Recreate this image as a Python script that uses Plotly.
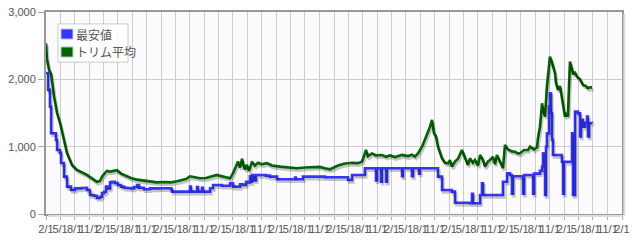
import pandas as pd
import plotly.graph_objects as go

START = "2014-02-01"
END = "2024-02-01"

# day offsets from START and prices (JPY)
trim_days = [0, 6, 19, 32, 51, 70, 89, 101, 114, 133, 152, 165, 197, 228, 260, 285, 304, 323, 342, 355,
             374, 387, 406, 431, 450, 476, 514, 539, 577, 621, 659, 704, 748, 793, 831, 862, 888, 913, 938, 976,
             1014, 1052, 1084, 1116, 1148, 1167, 1186, 1205, 1217, 1230, 1243, 1255, 1262, 1274, 1287, 1306, 1325, 1344, 1369, 1401,
             1433, 1484, 1528, 1591, 1642, 1693, 1737, 1769, 1801, 1851, 1896, 1940, 1978, 2003, 2016, 2029, 2041, 2067, 2092, 2130,
             2156, 2181, 2213, 2257, 2295, 2320, 2339, 2358, 2384, 2403, 2422, 2435, 2447, 2460, 2473, 2485, 2511, 2530, 2549, 2561,
             2574, 2593, 2612, 2637, 2656, 2675, 2688, 2707, 2720, 2739, 2752, 2771, 2783, 2802, 2815, 2834, 2847, 2859, 2878, 2897,
             2910, 2929, 2954, 2973, 2992, 3005, 3031, 3056, 3069, 3094, 3113, 3119, 3132, 3145, 3151, 3164, 3176, 3189, 3195, 3208,
             3227, 3233, 3246, 3259, 3271, 3284, 3290, 3303, 3309, 3316, 3322, 3335, 3341, 3354, 3367, 3386, 3405, 3424, 3436, 3449, 3462]
trim_vals = [2536, 2300, 2140, 2080, 1743, 1500, 1352, 1250, 1100, 906, 790, 728, 654, 620, 580, 540, 505, 478, 490, 555,
             610, 640, 630, 645, 650, 600, 555, 535, 510, 495, 480, 470, 475, 470, 485, 500, 520, 560, 545, 530,
             535, 555, 580, 560, 540, 530, 605, 700, 780, 690, 820, 700, 660, 730, 640, 777, 720, 760, 740, 755,
             720, 703, 690, 680, 690, 693, 700, 680, 664, 720, 750, 760, 755, 777, 880, 951, 860, 900, 870, 877,
             850, 870, 845, 877, 860, 880, 852, 900, 1000, 1100, 1223, 1300, 1397, 1200, 1150, 1000, 827, 760, 753, 800,
             703, 780, 820, 951, 850, 728, 827, 760, 802, 720, 877, 800, 703, 780, 802, 850, 740, 877, 780, 680,
             1025, 960, 930, 926, 900, 902, 950, 951, 1000, 960, 990, 1124, 1300, 1645, 1550, 1446, 1900, 2150, 2338, 2250,
             2090, 1950, 1843, 1900, 1694, 1550, 1446, 1500, 1446, 1900, 2264, 2150, 2090, 2100, 2040, 2000, 1917, 1900, 1868, 1880, 1880]

min_days = [0, 13, 25, 32, 51, 63, 70, 89, 95, 114, 133, 159, 184, 222, 254, 260, 279, 304, 323, 342,
            355, 368, 380, 393, 406, 418, 437, 456, 476, 495, 514, 539, 558, 577, 590, 621, 659, 723, 793, 799,
            913, 919, 957, 964, 989, 995, 1040, 1059, 1116, 1167, 1186, 1230, 1249, 1268, 1281, 1293, 1300, 1306, 1319, 1331,
            1395, 1420, 1465, 1579, 1585, 1629, 1769, 1915, 1940, 2022, 2092, 2099, 2124, 2130, 2156, 2162, 2257, 2263, 2320, 2327,
            2365, 2371, 2485, 2511, 2574, 2593, 2688, 2701, 2707, 2752, 2764, 2771, 2897, 2923, 2942, 2954, 2961, 3024, 3031, 3088,
            3094, 3132, 3145, 3151, 3164, 3170, 3176, 3189, 3195, 3202, 3208, 3214, 3271, 3278, 3284, 3335, 3341, 3354, 3373, 3386,
            3392, 3405, 3417, 3430, 3436, 3443, 3462]
min_vals = [2095, 1843, 1595, 1200, 1200, 1100, 950, 906, 757, 555, 406, 357, 380, 386, 390, 357, 282, 270, 238, 257,
            312, 330, 406, 380, 470, 480, 460, 430, 406, 390, 386, 380, 400, 430, 390, 367, 380, 382, 367, 332,
            406, 332, 400, 332, 390, 332, 382, 431, 420, 456, 406, 440, 431, 480, 470, 560, 480, 580, 500, 580,
            570, 555, 515, 540, 515, 555, 545, 505, 580, 680, 500, 680, 480, 680, 480, 680, 560, 680, 560, 680,
            600, 680, 555, 357, 332, 168, 159, 300, 159, 282, 456, 282, 480, 605, 580, 300, 560, 300, 580, 300,
            600, 640, 703, 902, 282, 1000, 1198, 1600, 1793, 1500, 1100, 877, 777, 300, 777, 1198, 282, 1520, 1495, 1150,
            1400, 1297, 1350, 1446, 1150, 1350, 1347]

series_names = ["最安値", "トリム平均"]
series_colors = ["#3535ff", "#006600"]
tick_text_cycle = ["2/1", "5/1", "8/1", "11/1"]
y_ticks = [0, 1000, 2000, 3000]

start = pd.Timestamp(START)
trim_x = [start + pd.Timedelta(days=d) for d in trim_days]
min_x = [start + pd.Timedelta(days=d) for d in min_days]
tick_dates = pd.date_range(START, END, freq="3MS")
tick_text = [tick_text_cycle[i % 4] for i in range(len(tick_dates))]

x_range = [start, pd.Timestamp(END)]
shift_days = pd.Timedelta(days=8)

fig = go.Figure()
# shadows (same data on offset overlay axes)
fig.add_trace(go.Scatter(x=trim_x, y=trim_vals, mode="lines", line=dict(color="rgba(0,0,0,0.22)", width=2.8),
                         xaxis="x2", yaxis="y2", showlegend=False, hoverinfo="skip"))
fig.add_trace(go.Scatter(x=min_x, y=min_vals, mode="lines", line=dict(color="rgba(0,0,0,0.22)", width=2.8, shape="hv"),
                         xaxis="x2", yaxis="y2", showlegend=False, hoverinfo="skip"))
fig.add_trace(go.Scatter(x=trim_x, y=trim_vals, mode="lines", line=dict(color=series_colors[1], width=2.6),
                         showlegend=False))
fig.add_trace(go.Scatter(x=min_x, y=min_vals, mode="lines", line=dict(color=series_colors[0], width=2.6, shape="hv"),
                         showlegend=False))

font_ticks = dict(family="Liberation Sans, Arial, sans-serif", size=11, color="#555555")
legend_font = dict(family="Noto Sans CJK JP", size=12, color="#555555")

shapes = [
    # plot border shadow
    dict(type="line", xref="paper", yref="paper", x0=1.004, x1=1.004, y0=-0.01, y1=0.99,
         line=dict(color="#dddddd", width=2)),
    dict(type="line", xref="paper", yref="paper", x0=0.004, x1=1.004, y0=-0.01, y1=-0.01,
         line=dict(color="#dddddd", width=2)),
    # legend box
    dict(type="rect", xref="paper", yref="paper", x0=0.0208, x1=0.1424, y0=0.752, y1=0.941,
         fillcolor="rgba(255,255,255,0.85)", line=dict(color="#cccccc", width=1), layer="above"),
]
annotations = []
swatch_y = [(0.866, 0.916), (0.777, 0.827)]
text_y = [0.891, 0.8035]
for name, col, (sy0, sy1), ty in zip(series_names, series_colors, swatch_y, text_y):
    shapes.append(dict(type="rect", xref="paper", yref="paper", x0=0.026, x1=0.0469, y0=sy0, y1=sy1,
                       fillcolor=col, line=dict(color="#cccccc", width=1), layer="above"))
    annotations.append(dict(xref="paper", yref="paper", x=0.049, y=ty, xanchor="left", yanchor="middle",
                            text=name, showarrow=False, font=legend_font))

fig.update_layout(
    width=635, height=243,
    margin=dict(l=46, r=13, t=12, b=29, autoexpand=False),
    paper_bgcolor="white",
    plot_bgcolor="#fbfbfe",
    showlegend=False,
    shapes=shapes,
    annotations=annotations,
    xaxis=dict(type="date", range=x_range, tickmode="array", tickvals=tick_dates, ticktext=tick_text,
               showgrid=True, gridcolor="#cccccc", gridwidth=1, automargin=False,
               showline=True, linecolor="#999999", linewidth=2, mirror=True,
               ticks="outside", ticklen=4, tickcolor="#aaaaaa", tickangle=0,
               tickfont=font_ticks, zeroline=False, fixedrange=True),
    yaxis=dict(range=[0, 3000], tickvals=y_ticks, tickformat=",d", automargin=False,
               showgrid=True, gridcolor="#cccccc", gridwidth=1,
               showline=True, linecolor="#999999", linewidth=2, mirror=True,
               ticks="outside", ticklen=6, tickcolor="#aaaaaa",
               tickfont=font_ticks, zeroline=False, fixedrange=True),
    xaxis2=dict(type="date", overlaying="x", range=[x_range[0] - shift_days, x_range[1] - shift_days],
                visible=False, fixedrange=True),
    yaxis2=dict(overlaying="y", range=[35, 3035], visible=False, fixedrange=True),
)

fig.write_html("out.html")
